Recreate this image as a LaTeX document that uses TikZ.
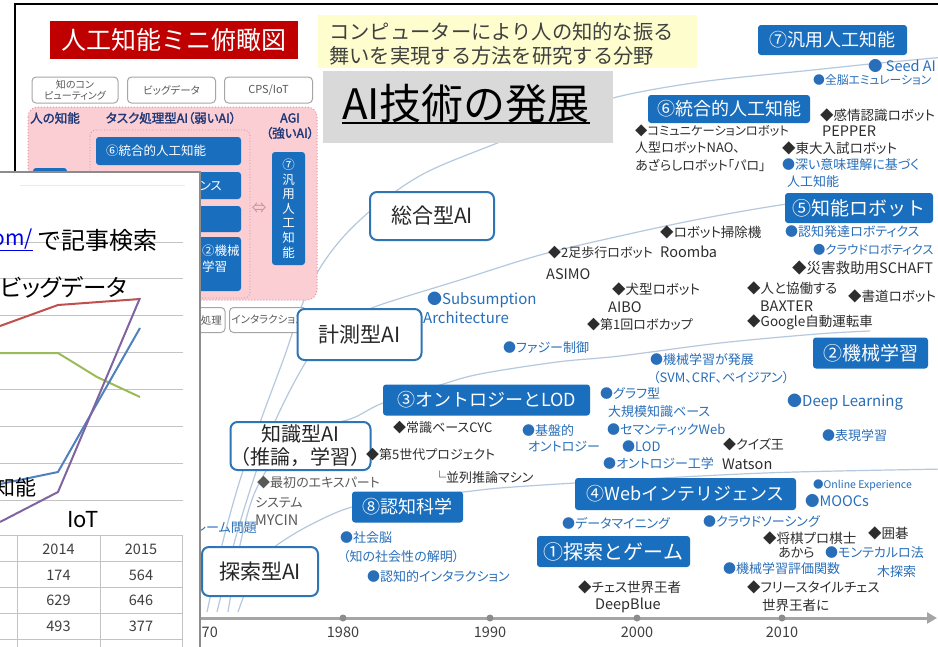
\documentclass[tikz,border=0pt]{standalone}
\usepackage{fontspec}
\setmainfont{Noto Sans CJK JP}
\newfontfamily\itf{Noto Sans CJK JP}[RawFeature=+palt]
\newfontfamily\bft{Noto Sans CJK JP}[FakeBold=2,RawFeature=+palt]
\usetikzlibrary{arrows.meta}
\definecolor{boxblue}{RGB}{26,110,190}
\definecolor{edgeblue}{RGB}{46,117,182}
\definecolor{itemblue}{RGB}{40,110,185}
\definecolor{itemdark}{RGB}{45,45,45}
\definecolor{curvecol}{RGB}{182,200,222}
\definecolor{titlered}{RGB}{192,0,0}
\definecolor{yellowbg}{RGB}{254,253,206}
\definecolor{graybg}{RGB}{217,217,217}
\definecolor{pinkbg}{RGB}{250,206,211}
\definecolor{pinkedge}{RGB}{222,150,165}
\definecolor{navy}{RGB}{31,56,120}
\definecolor{axisgray}{RGB}{165,165,165}
\definecolor{linkblue}{RGB}{0,0,230}
\definecolor{cred}{RGB}{192,80,77}
\definecolor{cpurple}{RGB}{128,100,162}
\definecolor{cblue}{RGB}{79,129,189}
\definecolor{cgreen}{RGB}{155,187,89}
\definecolor{gridgray}{RGB}{195,195,195}
\newcommand\fsz[1]{\fontsize{#1}{#1}\selectfont}
\begin{document}
\begin{tikzpicture}[x=1pt,y=-1pt,
  itb/.style={anchor=west, inner sep=0pt, text=itemblue, font=\itf\fsz{13}},
  itk/.style={anchor=west, inner sep=0pt, text=itemdark, font=\itf\fsz{13}},
  bbox/.style={fill=boxblue, text=white, rounded corners=3pt, inner sep=0pt},
  obox/.style={draw=edgeblue, line width=2pt, fill=white, rounded corners=7pt, inner sep=0pt, text=black!85},
  sbox/.style={draw=black!35, line width=1pt, fill=white, rounded corners=4pt, inner sep=0pt, text=black!65},
  curve/.style={draw=curvecol, line width=1.2pt},
  gridl/.style={draw=gridgray, line width=1pt},
  tbl/.style={inner sep=0pt, text=black!75, font=\fsz{14.5}},
  yrs/.style={inner sep=0pt, text=black!75, font=\fsz{14.5}},
]
\useasboundingbox (0,0) rectangle (938,646);
\clip (0,0) rectangle (938,646);
\fill[white] (-5,-5) rectangle (945,650);

% ---- evolution curves ----
\draw[curve] plot[smooth, tension=0.55] coordinates {(207,612) (222,545) (240,480) (262,417) (285,355) (302,305) (320,268) (345,235) (380,203) (427,172) (500,142) (560,119) (613,98) (700,82) (813,70) (870,64) (945,57)};
\draw[curve] plot[smooth, tension=0.55] coordinates {(217,612) (235,540) (255,475) (277,417) (307,360) (335,325) (377,306) (460,280) (540,255) (620,236) (700,219) (787,204) (860,196)};
\draw[curve] plot[smooth, tension=0.55] coordinates {(228,612) (240,545) (255,492) (282,450) (320,428) (353,418) (383,403) (440,385) (480,374) (557,362) (620,356) (720,343) (817,334) (870,331)};
\draw[curve] plot[smooth, tension=0.55] coordinates {(238,612) (250,580) (262,560) (277,545) (310,525) (352,507) (410,497) (463,492) (500,488) (575,483) (700,476) (795,472) (945,469)};

% ---- slide frame ----
\draw[line width=2pt] (15,300) -- (15,4) -- (945,4);

% ---- title and header ----
\node[fill=titlered, minimum width=248pt, minimum height=38pt, inner sep=0pt, text=white, font=\fsz{25}] (title) at (174,40) {人工知能ミニ俯瞰図};
\fill[yellowbg] (318,15) rectangle (697,68);
\node[anchor=west, inner sep=0pt, text=black!75, font=\fsz{20.3}] (y1) at (329,32) {コンピューターにより人の知的な振る};
\node[anchor=west, inner sep=0pt, text=black!75, font=\fsz{20.3}] (y2) at (329,56) {舞いを実現する方法を研究する分野};
\fill[graybg] (323,71) rectangle (613,143);
\node[inner sep=0pt, text=black, font=\fsz{42}] (ai) at (466,104) {AI技術の発展};
\draw[line width=2pt] ([yshift=-3pt]ai.base west) -- ([yshift=-3pt]ai.base east);

% ---- mini overview (top left) ----
\node[sbox, minimum width=86pt, minimum height=26pt, align=center, font=\itf\fontsize{10}{11.5}\selectfont] (kc) at (75,90) {知のコン\\ピューティング};
\node[sbox, minimum width=88pt, minimum height=26pt, font=\itf\fsz{10.5}] (bd) at (171.5,90) {ビッグデータ};
\node[sbox, minimum width=88pt, minimum height=26pt, font=\itf\fsz{11}] (cps) at (268.5,90) {CPS/IoT};
\draw[pinkedge, dotted, line width=1pt, fill=pinkbg, rounded corners=10pt] (28,107) rectangle (317,300);
\draw[pinkedge!70!gray, dotted, line width=0.8pt, rounded corners=6pt] (90,130) rectangle (250,298);
\node[inner sep=0pt, text=navy, font=\bft\fsz{12.5}] (hl) at (55,118) {人の知能};
\node[inner sep=0pt, text=navy, font=\bft\fsz{12.5}] (tl) at (171,118) {タスク処理型AI（弱いAI）};
\node[inner sep=0pt, text=navy, font=\bft\fsz{12.5}] (agl) at (290,118) {AGI};
\node[inner sep=0pt, text=navy, font=\bft\fsz{12.5}] (agl2) at (290,133) {（強いAI）};
\node[bbox, minimum width=145pt, minimum height=28pt] (p6) at (168.5,151) {};
\node[anchor=west, inner sep=0pt, text=white, font=\itf\fsz{12.5}] (p6t) at (106,151) {⑥統合的人工知能};
\node[bbox, minimum width=145pt, minimum height=27pt] (p4) at (168.5,185.5) {};
\node[anchor=east, inner sep=0pt, text=white, font=\itf\fsz{12.5}] (p4t) at (222,185.5) {④Webインテリジェンス};
\node[bbox, minimum width=145pt, minimum height=26pt] (p3) at (168.5,219) {};
\node[bbox, minimum width=91pt, minimum height=54pt] (p2) at (195.5,264) {};
\node[anchor=west, inner sep=0pt, text=white, font=\itf\fsz{12.5}] (p2a) at (202,251) {②機械};
\node[anchor=west, inner sep=0pt, text=white, font=\itf\fsz{12.5}] (p2b) at (202,267) {学習};
\node[bbox, minimum width=34pt, minimum height=120pt] (ph) at (50,228) {};
\node[bbox, minimum width=33pt, minimum height=113pt, align=center, font=\fontsize{12.5}{14.6}\selectfont] (p7) at (288.5,208.5) {⑦\\汎\\用\\人\\工\\知\\能};
\node[inner sep=0pt, text=pinkedge!80!gray, font=\fsz{15}] (dbl) at (259,208) {⇔};
\node[sbox, minimum width=75pt, minimum height=25pt] (nl) at (187.5,320) {};
\node[anchor=east, inner sep=0pt, text=black!65, font=\itf\fsz{10.5}] (nlt) at (222,320) {自然言語処理};
\node[sbox, minimum width=77pt, minimum height=25pt, font=\itf\fsz{10.5}] (ix) at (268,320) {インタラクション};

% ---- AI type boxes ----
\node[obox, minimum width=124pt, minimum height=48pt, font=\fsz{21}] (sogo) at (432,216) {総合型AI};
\node[obox, minimum width=124pt, minimum height=51pt, font=\fsz{21}] (keisoku) at (359.5,334.5) {計測型AI};
\node[obox, minimum width=125pt, minimum height=48pt, align=center, font=\fontsize{20}{23}\selectfont] (chishiki) at (300.5,446) {知識型AI\\（推論，学習）};
\node[obox, minimum width=116pt, minimum height=49pt, font=\fsz{21}] (tansaku) at (260,571.5) {探索型AI};

% ---- numbered technology boxes ----
\node[bbox, minimum width=149pt, minimum height=30pt, font=\fsz{18}] (n7) at (832.5,40) {⑦汎用人工知能};
\node[bbox, minimum width=162pt, minimum height=28pt, font=\fsz{18}] (n6) at (729,109) {⑥統合的人工知能};
\node[bbox, minimum width=148pt, minimum height=30pt, font=\fsz{19}] (n5) at (859,208) {⑤知能ロボット};
\node[bbox, minimum width=115pt, minimum height=31pt, font=\fsz{19}] (n2) at (870.5,353) {②機械学習};
\node[bbox, minimum width=207pt, minimum height=31pt, font=\fsz{18}] (n3) at (486.5,400) {③オントロジーとLOD};
\node[bbox, minimum width=111pt, minimum height=31pt, font=\fsz{18}] (n8) at (407.5,507) {⑧認知科学};
\node[bbox, minimum width=221pt, minimum height=32pt, font=\fsz{18}] (n4) at (685.5,494) {④Webインテリジェンス};
\node[bbox, minimum width=153pt, minimum height=31pt, font=\fsz{20}] (n1) at (613.5,551.5) {①探索とゲーム};

% ---- blue items ----
\node[itb, font=\itf\fsz{14.5}] (sd) at (868,66) {● Seed AI};
\node[itb, font=\itf\fsz{11.8}] (zn) at (813,80) {●全脳エミュレーション};
\node[itb] (fk) at (782,165) {●深い意味理解に基づく};
\node[itb] (fk2) at (787,182) {人工知能};
\node[itb] (nh) at (785,232) {●認知発達ロボティクス};
\node[itb, font=\itf\fsz{12.3}] (cr) at (813,250) {●クラウドロボティクス};
\node[itb, font=\itf\fsz{15}] (ss) at (427,300) {●Subsumption};
\node[itb, font=\itf\fsz{15}] (ar) at (423,318) {Architecture};
\node[itb] (fz) at (503,348) {●ファジー制御};
\node[itb] (kg) at (650,360) {●機械学習が発展};
\node[itb] (svm) at (653,378) {（SVM、CRF、ベイジアン）};
\node[itb] (gr) at (600,393) {●グラフ型};
\node[itb] (gr2) at (608,412) {大規模知識ベース};
\node[itb, font=\itf\fsz{15}] (dl) at (787,402) {●Deep Learning};
\node[itb] (kb) at (522,430) {●基盤的};
\node[itb] (kb2) at (528,447) {オントロジー};
\node[itb] (sw) at (607,430) {●セマンティックWeb};
\node[itb] (lod) at (622,447) {●LOD};
\node[itb] (hg) at (822,436) {●表現学習};
\node[itb] (ok) at (603,464) {●オントロジー工学};
\node[itb, font=\itf\fsz{10.5}] (oe) at (813,485) {●Online Experience};
\node[itb, font=\itf\fsz{14.5}] (mo) at (805,501) {●MOOCs};
\node[itb] (dm) at (562,523) {●データマイニング};
\node[itb] (cs) at (703,521) {●クラウドソーシング};
\node[itb] (mc) at (825,553) {●モンテカルロ法};
\node[itb] (mc2) at (877,572) {木探索};
\node[itb] (hk) at (723,569) {●機械学習評価関数};
\node[itb, anchor=east] (fr) at (257,528) {●フレーム問題};
\node[itb] (sk) at (340,538) {●社会脳};
\node[itb] (sk2) at (343,557) {（知の社会性の解明）};
\node[itb] (ni) at (367,577) {●認知的インタラクション};

% ---- black items ----
\node[itk, font=\itf\fsz{13.5}] (kj) at (820,115) {◆感情認識ロボット};
\node[itk, font=\itf\fsz{14.5}] (pp) at (822,131) {PEPPER};
\node[itk, font=\itf\fsz{12.3}] (cm) at (635,131) {◆コミュニケーションロボット};
\node[itk] (nao) at (635,148) {人型ロボットNAO、};
\node[itk, font=\itf\fsz{13.5}] (td) at (782,148) {◆東大入試ロボット};
\node[itk] (pr) at (635,165) {あざらしロボット「パロ」};
\node[itk, font=\itf\fsz{13.5}] (rb) at (660,232) {◆ロボット掃除機};
\node[itk] (as) at (548,253) {◆2足歩行ロボット};
\node[itk, font=\itf\fsz{14.5}] (roo) at (660,252) {Roomba};
\node[itk, font=\itf\fsz{14.5}] (asm) at (546,274) {ASIMO};
\node[itk, font=\itf\fsz{14.5}] (sc) at (792,268) {◆災害救助用SCHAFT};
\node[itk, font=\itf\fsz{13.5}] (ib) at (612,289) {◆犬型ロボット};
\node[itk, font=\itf\fsz{14.5}] (aibo) at (608,307) {AIBO};
\node[itk] (rc) at (587,325) {◆第1回ロボカップ};
\node[itk, font=\itf\fsz{13.5}] (kd) at (747,288) {◆人と協働する};
\node[itk, font=\itf\fsz{14.5}] (bx) at (760,306) {BAXTER};
\node[itk, font=\itf\fsz{13.5}] (sdo) at (848,296) {◆書道ロボット};
\node[itk, font=\itf\fsz{13.5}] (gg) at (747,322) {◆Google自動運転車};
\node[itk] (cyc) at (393,428) {◆常識ベースCYC};
\node[itk] (g5) at (366,455) {◆第5世代プロジェクト};
\node[itk] (hr) at (433,477) {└並列推論マシン};
\node[itk] (qz) at (723,445) {◆クイズ王};
\node[itk, font=\itf\fsz{14.5}] (ws) at (722,464) {Watson};
\node[itk, text=black!65] (ex) at (257,483) {◆最初のエキスパート};
\node[itk, text=black!65] (sy) at (255,503) {システム};
\node[itk, text=black!65, font=\itf\fsz{14.5}] (my) at (255,520) {MYCIN};
\node[itk, font=\itf\fsz{13.5}] (sg) at (763,538) {◆将棋プロ棋士};
\node[itk, font=\itf\fsz{13.5}] (ig) at (868,533) {◆囲碁};
\node[itk] (ak) at (778,553) {あから};
\node[itk, font=\itf\fsz{13.5}] (ch) at (578,587) {◆チェス世界王者};
\node[itk, font=\itf\fsz{14.5}] (db) at (595,605) {DeepBlue};
\node[itk, font=\itf\fsz{13.5}] (fcs) at (747,587) {◆フリースタイルチェス};
\node[itk, font=\itf\fsz{13.5}] (sw2) at (762,605) {世界王者に};

% ---- time axis ----
\coordinate (axs) at (195,618);
\coordinate (axe) at (937,618);
\draw[axisgray, line width=3pt, -{Triangle[length=10pt,width=11pt]}] (axs) -- (axe);
\foreach \xx in {343,490,637,782} \fill[black!45] (\xx,618) circle (3.5pt);
\node[yrs, anchor=east] (y70) at (218,632) {1970};
\node[yrs] (y80) at (343,632) {1980};
\node[yrs] (y90) at (490,632) {1990};
\node[yrs] (y00) at (637,632) {2000};
\node[yrs] (y10) at (782,632) {2010};

% ---- overlapping window ----
\fill[white] (-5,172) rectangle (200,650);
\draw[black!45, line width=1.5pt] (-5,172) -- (200,172) -- (200,650);
\draw[black!8, line width=1pt] (20,185) -- (185,185);
\foreach \yy in {242,278.5,315,352,389,426,463,500} \draw[gridl] (0,\yy) -- (183,\yy);
\draw[cgreen, line width=2pt] plot coordinates {(0,353) (58,353) (97,377) (140,397)};
\draw[cred, line width=2pt] plot coordinates {(0,326) (58,305) (140,299)};
\draw[cblue, line width=2pt] plot coordinates {(0,484) (58,472) (140,328)};
\draw[cpurple, line width=2pt] plot coordinates {(0,522) (58,492) (140,298)};
\node[anchor=east, inner sep=0pt, text=linkblue, font=\fsz{21}] (url) at (33,240) {\underline{om/}};
\node[anchor=west, inner sep=0pt, text=black, font=\fsz{24}] (kiji) at (37,240) {で記事検索};
\node[anchor=west, inner sep=0pt, text=black, font=\itf\fsz{23.5}] (bigd) at (0,287) {ビッグデータ};
\node[anchor=east, inner sep=0pt, text=black, font=\fsz{21}] (jinko) at (37,487) {人工知能};
\node[inner sep=0pt, text=black, font=\fsz{22}] (iot) at (83,520) {IoT};
\foreach \yy in {535,561,587,613,639} \draw[gridl] (0,\yy) -- (182,\yy);
\foreach \xx in {17,100,182} \draw[gridl] (\xx,535) -- (\xx,650);
\node[tbl] (t1) at (58.5,549) {2014};
\node[tbl] (t2) at (141,549) {2015};
\node[tbl] (t3) at (58.5,575) {174};
\node[tbl] (t4) at (141,575) {564};
\node[tbl] (t5) at (58.5,600) {629};
\node[tbl] (t6) at (141,600) {646};
\node[tbl] (t7) at (58.5,626) {493};
\node[tbl] (t8) at (141,626) {377};
\end{tikzpicture}
\end{document}
